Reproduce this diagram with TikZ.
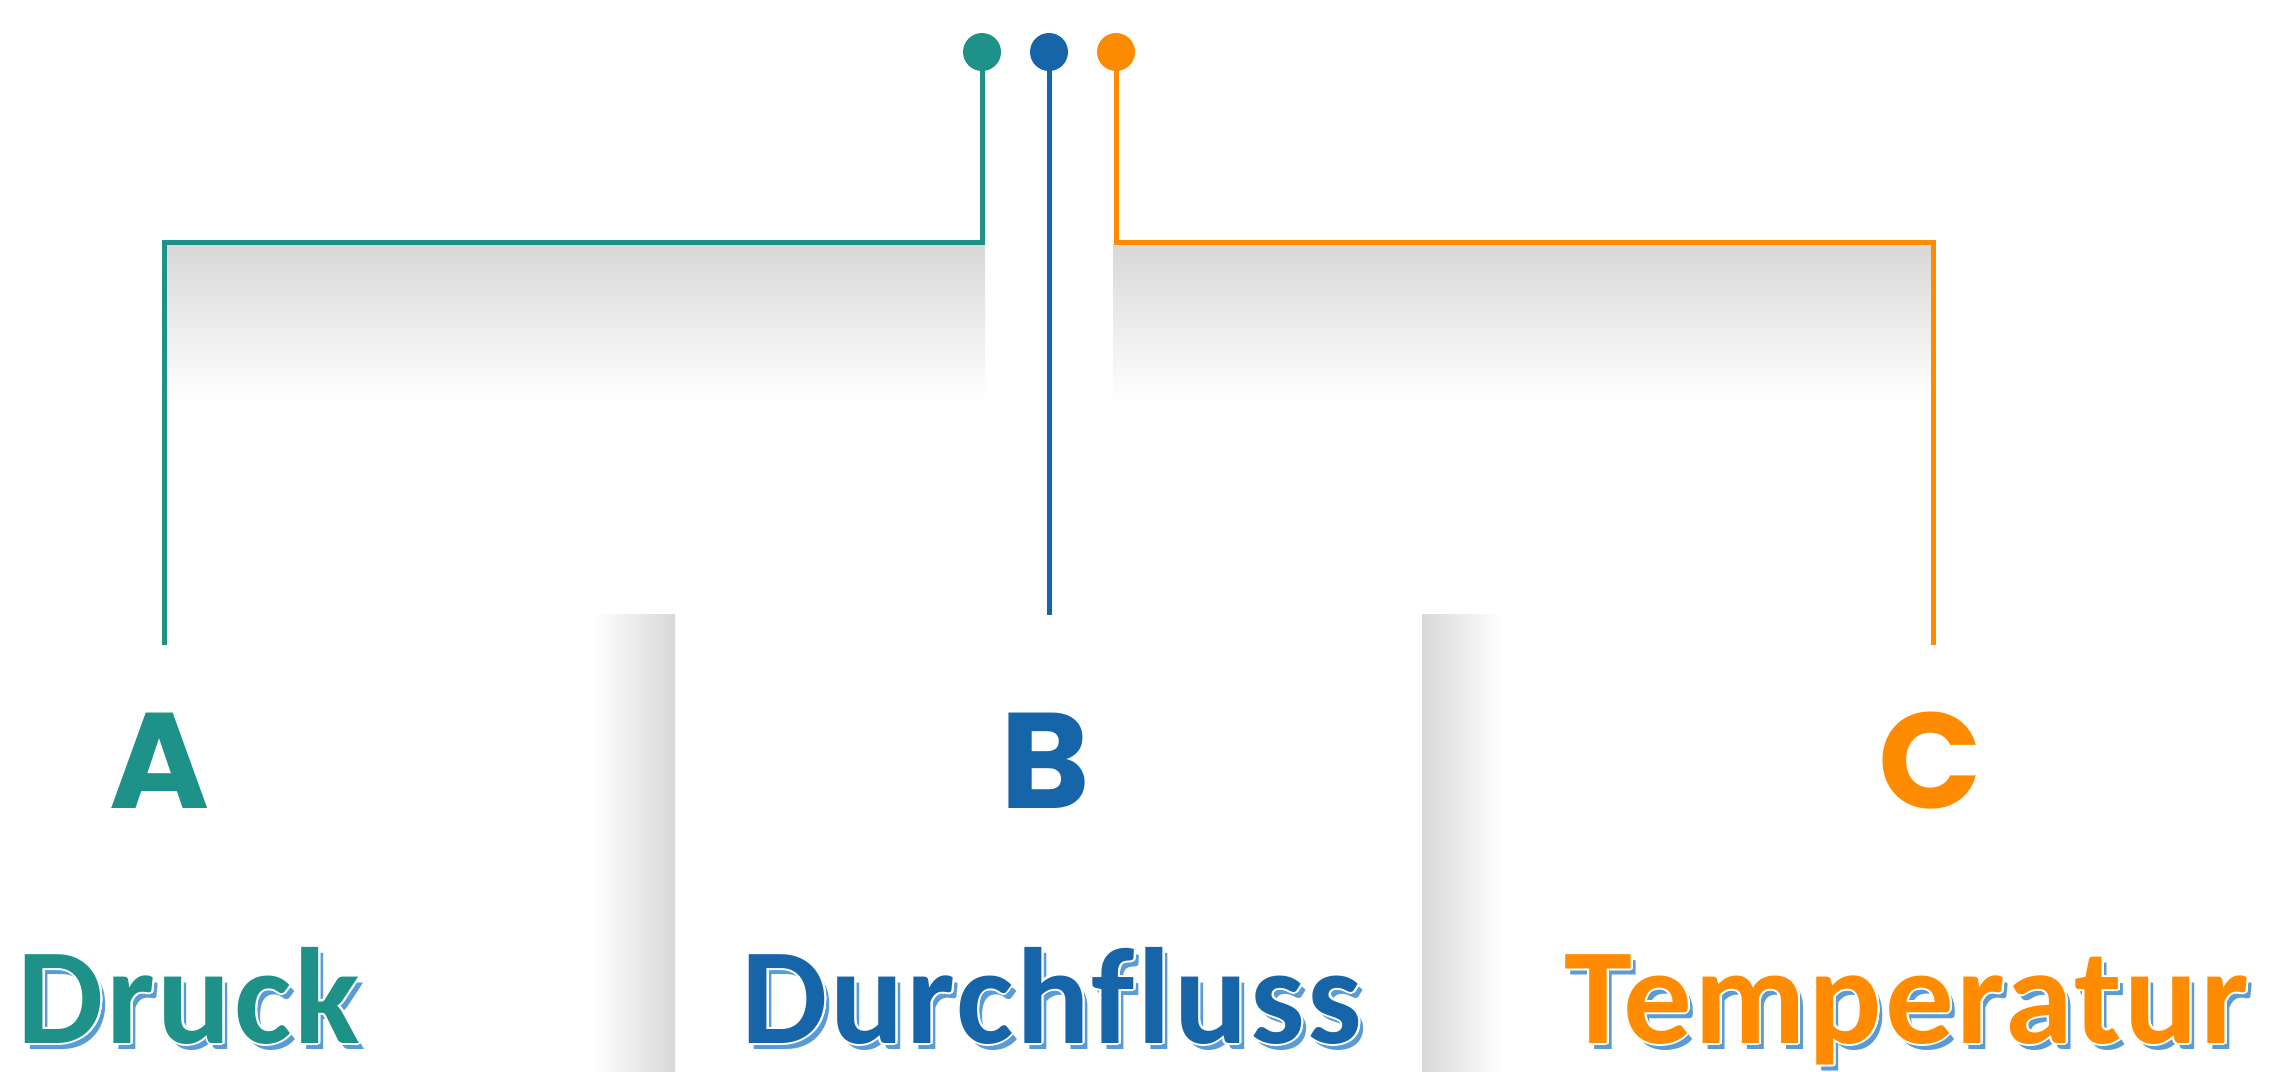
\documentclass[tikz,border=0pt]{standalone}
\usepackage{fontspec}
\setmainfont{Carlito}[Ligatures={NoCommon}, LetterSpace=2.0]
\newfontfamily\letterfont{Poppins}
\usepackage{contour}
\contourlength{2pt}
\contournumber{24}
\definecolor{cteal}{RGB}{30,145,136}
\definecolor{cblue}{RGB}{21,101,168}
\definecolor{corange}{RGB}{255,140,0}
\definecolor{cshadow}{RGB}{91,155,213}
\definecolor{cgray}{RGB}{216,216,216}
\tikzset{
  dot/.style={circle, fill=#1, inner sep=0pt, minimum size=38pt},
  conn/.style={draw=#1, line width=5pt},
  letter/.style={text=#1, font=\letterfont\bfseries\fontsize{136}{136}\selectfont, anchor=base, inner sep=0pt},
  wordshadow/.style={text=cshadow, font=\bfseries\fontsize{137}{137}\selectfont, anchor=base, inner sep=0pt},
  word/.style={text=#1, font=\bfseries\fontsize{137}{137}\selectfont, anchor=base, inner sep=0pt},
}
\begin{document}
\begin{tikzpicture}[x=1pt,y=-1pt]
\useasboundingbox (0,0) rectangle (2288,1071);
% shadings
\shade[top color=cgray, bottom color=white] (166,244) rectangle (985,400);
\shade[top color=cgray, bottom color=white] (1113,244) rectangle (1931,400);
\shade[left color=white, right color=cgray] (593,614) rectangle (675,1071);
\shade[left color=cgray, right color=white] (1422,614) rectangle (1502,1071);
% dots
\node[dot=cteal] (da) at (982,52) {};
\node[dot=cblue] (db) at (1049,52) {};
\node[dot=corange] (dc) at (1116,52) {};
\coordinate (ka) at (982,242);
\coordinate (la) at (164,242);
\coordinate (ea) at (164,645);
\coordinate (eb) at (1049,615);
\coordinate (kc) at (1116,242);
\coordinate (lc) at (1933,242);
\coordinate (ec) at (1933,645);
\draw[conn=cteal] (da.center) -- (ka) -- (la) -- (ea);
\draw[conn=cblue] (db.center) -- (eb);
\draw[conn=corange] (dc.center) -- (kc) -- (lc) -- (ec);
% letters
\node[letter=cteal] (A) at (160,808) {A};
\node[letter=cblue] (B) at (1045,808) {B};
\node[letter=corange] (C) at (1930,808) {C};
% words
\node[wordshadow] (ws1) at (194,1049) {Druck};
\node[word=cteal] (w1) at (189,1043) {\contour{white}{Druck}};
\node[wordshadow] (ws2) at (1057,1049) {Durchfluss};
\node[word=cblue] (w2) at (1052,1043) {\contour{white}{Durchfluss}};
\node[wordshadow] (ws3) at (1912,1049) {Temperatur};
\node[word=corange] (w3) at (1907,1043) {\contour{white}{Temperatur}};
\end{tikzpicture}
\end{document}
